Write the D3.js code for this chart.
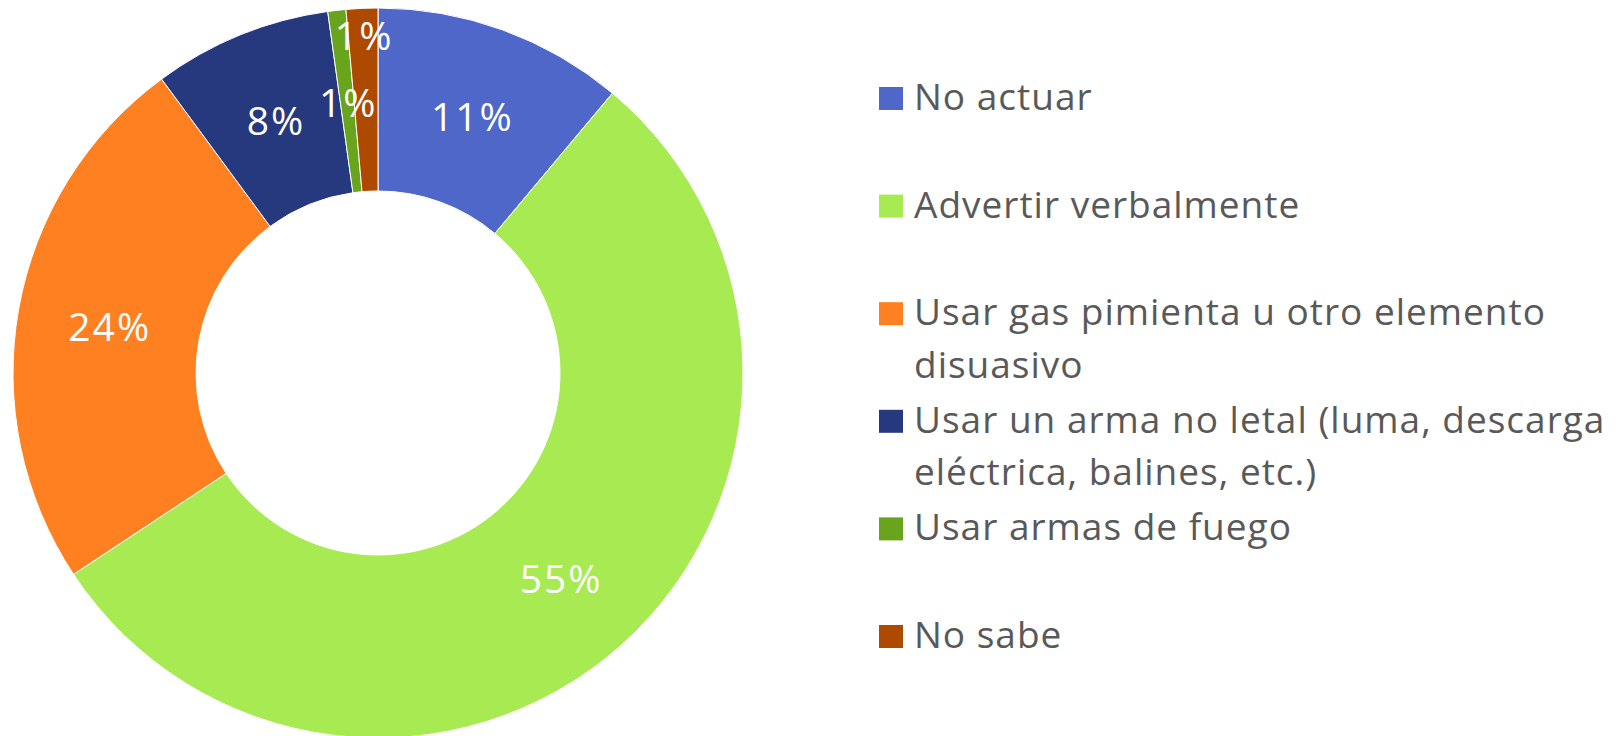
<!DOCTYPE html>
<html lang="es">
<head>
    <meta charset="UTF-8">
    <title>D3 donut</title>
    <style>
        body { margin: 0; background: #ffffff; }
        svg { display: block; }
    </style>
</head>
<body>
    <svg id="main-svg" width="1617" height="736"></svg>

    <script src="https://cdn.jsdelivr.net/npm/d3@7/dist/d3.min.js"></script>
    <script>
        // data
        let categories = [
            'No actuar',
            'Advertir verbalmente',
            'Usar gas pimienta u otro elemento disuasivo',
            'Usar un arma no letal (luma, descarga eléctrica, balines, etc.)',
            'Usar armas de fuego',
            'No sabe'
        ];
        let legendLines = [
            ['No actuar'],
            ['Advertir verbalmente'],
            ['Usar gas pimienta u otro elemento', 'disuasivo'],
            ['Usar un arma no letal (luma, descarga', 'eléctrica, balines, etc.)'],
            ['Usar armas de fuego'],
            ['No sabe']
        ];
        let values = [11.1, 54.6, 24.2, 7.9, 0.8, 1.4];
        let colors = ['#4E67C8', '#A7EA52', '#FF8021', '#27397E', '#68A51C', '#AE4A00'];

        let fontFamily = '"Open Sans", Roboto, sans-serif';

        let svg = d3.select('#main-svg');

        let cx = 378, cy = 373;
        let outerR = 365, innerR = 182;

        let pie = d3.pie().sort(null).value(d => d);
        let arcs = pie(values);

        let arc = d3.arc().innerRadius(innerR).outerRadius(outerR);

        let g = svg.append('g').attr('transform', 'translate(' + cx + ',' + cy + ')');

        g.selectAll('path.slice')
            .data(arcs)
            .enter()
            .append('path')
            .classed('slice', true)
            .attr('d', arc)
            .attr('fill', (d, i) => colors[i])
            .attr('stroke', '#ffffff')
            .attr('stroke-width', 1);

        // labels sit in the middle of the ring, tiny neighbours get pushed outwards
        let midR = (innerR + outerR) / 2;
        let placed = [];
        arcs.forEach((d, i) => {
            let a = (d.startAngle + d.endAngle) / 2;
            let r = midR;
            let x = Math.sin(a) * r, y = -Math.cos(a) * r;
            let clash = placed.some(p => Math.hypot(p[0] - x, p[1] - y) < 60);
            if (clash) {
                r = outerR - 26;
                x = Math.sin(a) * r;
                y = -Math.cos(a) * r;
            }
            placed.push([x, y]);
            g.append('text')
                .attr('x', x + 1)
                .attr('y', y)
                .attr('text-anchor', 'middle')
                .attr('dominant-baseline', 'central')
                .attr('font-family', fontFamily)
                .attr('font-size', 39)
                .attr('letter-spacing', 2)
                .attr('fill', '#ffffff')
                .text(d3.format('.0f')(values[i]) + '%');
        });

        // legend
        let legendX = 879;
        let legendY = d3.scaleLinear().domain([0, 1]).range([110, 217.6]);

        let lg = svg.append('g');
        legendLines.forEach((lines, i) => {
            let base = legendY(i);
            lg.append('rect')
                .attr('x', legendX)
                .attr('y', base - 23)
                .attr('width', 24)
                .attr('height', 23)
                .attr('fill', colors[i]);
            let t = lg.append('text')
                .attr('font-family', fontFamily)
                .attr('font-size', 37)
                .attr('letter-spacing', 1)
                .attr('fill', '#595959');
            lines.forEach((ln, j) => {
                t.append('tspan')
                    .attr('x', legendX + 35)
                    .attr('y', base + j * 52.5)
                    .text(ln);
            });
        });
    </script>
</body>
</html>
